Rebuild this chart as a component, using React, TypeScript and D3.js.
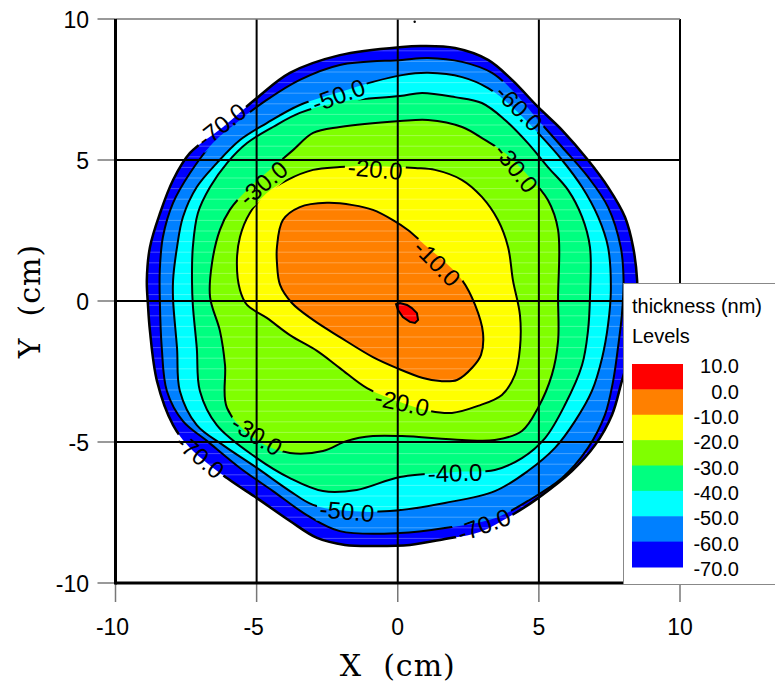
import React, { useEffect, useRef } from "react";
import * as d3 from "d3";

const W = 775;
const H = 688;

// levels and colours of the filled bands (outer -> inner)
const legendLevels = ["10.0", "0.0", "-10.0", "-20.0", "-30.0", "-40.0", "-50.0", "-60.0", "-70.0"];
const legendColors = ["#FF0000", "#FF8000", "#FFFF00", "#80FF00", "#00FF80", "#00FFFF", "#0080FF", "#0000FF"];
const axisTicks = [-10, -5, 0, 5, 10];
const gridTicks = [-5, 0, 5];

// contour outlines, in cm
const contour70 = [
  [0.86, 9.04], [0.15, 9.01], [-2.05, 8.72], [-3.82, 8.09], [-4.99, 7.2], [-6.19, 6.17], [-7.36, 5.25],
  [-7.96, 4.29], [-8.42, 3.12], [-8.78, 1.91], [-8.89, 0.74], [-8.85, -0.14], [-8.78, -1.06], [-8.53, -2.84],
  [-7.96, -4.4], [-7.36, -5.21], [-6.05, -6.28], [-4.99, -6.99], [-3.82, -7.8], [-2.86, -8.4], [-1.87, -8.65],
  [-0.88, -8.69], [0.43, -8.65], [1.67, -8.44], [2.91, -8.19], [4.05, -7.59], [4.97, -6.99], [6.17, -6.03],
  [6.99, -5.11], [7.59, -4.04], [7.94, -2.84], [8.3, -1.56], [8.48, -0.32], [8.48, 0.74], [8.34, 1.91],
  [8.05, 2.98], [7.45, 4.04], [6.74, 5.0], [5.82, 6.06], [4.97, 6.88], [4.05, 7.84], [3.2, 8.55], [2.03, 8.97],
];
const contour60 = [
  [1.07, 8.62], [0.15, 8.55], [-2.05, 8.37], [-3.47, 7.84], [-4.64, 7.13], [-5.59, 6.42], [-6.55, 5.6],
  [-7.36, 4.54], [-7.96, 3.48], [-8.32, 2.27], [-8.43, 1.1], [-8.43, 0.04], [-8.36, -1.67], [-8.18, -3.19],
  [-7.61, -4.26], [-6.76, -4.96], [-5.59, -5.92], [-4.42, -6.74], [-3.22, -7.59], [-2.05, -8.16], [0.08, -8.23],
  [1.67, -8.05], [3.44, -7.7], [4.61, -7.09], [5.82, -6.28], [6.74, -5.21], [7.34, -4.04], [7.63, -2.84],
  [7.8, -1.67], [7.94, -0.5], [8.0, 0.74], [7.9, 1.91], [7.45, 3.33], [6.74, 4.4], [5.82, 5.46], [4.97, 6.42],
  [4.05, 7.48], [3.34, 8.09], [2.28, 8.48],
];
const contour50 = [
  [1.07, 8.09], [0.15, 8.01], [-0.88, 7.77], [-2.05, 7.41], [-3.47, 6.95], [-4.64, 6.31], [-5.59, 5.71],
  [-6.41, 4.89], [-7.12, 4.04], [-7.61, 2.98], [-7.82, 1.91], [-7.96, 0.74], [-7.96, 0.04], [-7.82, -1.67],
  [-7.72, -3.19], [-7.12, -4.4], [-6.19, -5.11], [-4.99, -5.92], [-3.82, -6.74], [-3.0, -7.23], [-1.69, -7.45],
  [-0.28, -7.45], [1.67, -7.16], [3.44, -6.74], [4.61, -6.03], [5.57, -5.21], [6.28, -4.26], [6.88, -3.19],
  [7.24, -2.02], [7.45, -0.85], [7.55, 0.39], [7.45, 1.91], [7.1, 2.98], [6.53, 4.04], [5.82, 5.0], [4.97, 5.96],
  [4.05, 6.88], [3.2, 7.55], [2.28, 7.94],
];
const contour40 = [
  [0.86, 7.38], [0.08, 7.27], [-2.05, 7.06], [-3.47, 6.67], [-4.42, 6.17], [-5.34, 5.6], [-6.05, 4.89],
  [-6.65, 4.04], [-7.08, 3.12], [-7.26, 1.91], [-7.29, 0.74], [-7.26, -0.14], [-7.12, -1.67], [-7.01, -3.19],
  [-6.41, -4.4], [-4.99, -5.57], [-3.82, -6.28], [-2.65, -6.74], [-1.45, -6.7], [0.08, -6.24], [2.03, -6.06],
  [3.44, -5.99], [4.4, -5.57], [5.22, -4.86], [5.92, -3.69], [6.53, -2.27], [6.74, -1.06], [6.81, 0.11],
  [6.81, 1.91], [6.53, 2.98], [6.03, 3.94], [5.32, 4.75], [4.61, 5.6], [3.8, 6.42], [2.98, 7.02], [2.03, 7.23],
];
const contour30 = [
  [1.07, 6.42], [0.08, 6.38], [-2.05, 6.17], [-3.0, 5.96], [-3.71, 5.35], [-4.53, 4.65], [-5.24, 4.04],
  [-5.95, 3.23], [-6.3, 2.52], [-6.58, 1.35], [-6.65, 0.14], [-6.3, -1.06], [-6.12, -2.27], [-6.05, -3.79],
  [-4.99, -4.93], [-3.82, -5.39], [-2.65, -5.32], [-1.8, -4.96], [-0.88, -4.79], [0.15, -4.79], [2.28, -4.93],
  [3.44, -4.93], [4.4, -4.61], [4.97, -3.79], [5.46, -2.62], [5.68, -1.42], [5.68, 0.11], [5.68, 2.52],
  [5.32, 3.58], [4.51, 4.57], [3.8, 5.25], [3.09, 5.71], [2.28, 6.17],
];
const contour20 = [
  [0.61, 4.72], [-0.99, 4.79], [-2.05, 4.75], [-3.0, 4.65], [-3.92, 4.29], [-4.64, 3.83], [-5.24, 3.12],
  [-5.59, 2.27], [-5.7, 1.35], [-5.59, 0.39], [-5.34, -0.14], [-4.64, -0.6], [-3.82, -1.21], [-2.86, -1.77],
  [-2.05, -2.38], [-1.09, -3.09], [0.08, -3.58], [1.14, -3.9], [1.92, -3.97], [2.84, -3.72], [3.69, -3.33],
  [4.15, -2.62], [4.33, -1.67], [4.33, -0.5], [4.08, 0.74], [3.91, 1.91], [3.55, 2.87], [2.98, 3.69],
  [2.28, 4.29], [1.32, 4.65],
];
const contour10 = [
  [-4.07, 2.87], [-3.47, 3.33], [-2.51, 3.48], [-1.59, 3.4], [-0.88, 3.23], [-0.17, 2.87], [0.36, 2.52],
  [0.96, 1.99], [1.67, 1.38], [2.28, 0.74], [2.74, -0.14], [3.02, -1.13], [2.95, -1.91], [2.66, -2.34],
  [2.1, -2.8], [1.5, -2.84], [0.89, -2.73], [-0.03, -2.38], [-0.88, -1.99], [-2.05, -1.28], [-3.0, -0.67],
  [-3.75, -0.07], [-4.17, 0.57], [-4.28, 1.35], [-4.28, 1.91],
];
const contour0 = [
  [-0.06, -0.11], [0.08, -0.07], [0.33, -0.14], [0.5, -0.25], [0.68, -0.43], [0.72, -0.67], [0.61, -0.78],
  [0.43, -0.74], [0.18, -0.57], [0.01, -0.32],
];

// contour labels: text, position (cm), angle (deg)
const contourLabels = [
  { text: "-70.0", x: -6.25, y: 6.25, angle: -38 },
  { text: "-50.0", x: -2.1, y: 7.3, angle: -20 },
  { text: "-60.0", x: 4.3, y: 6.85, angle: 45 },
  { text: "-30.0", x: 4.2, y: 4.72, angle: 52 },
  { text: "-20.0", x: -0.8, y: 4.68, angle: 5 },
  { text: "-30.0", x: -4.77, y: 4.18, angle: -40 },
  { text: "-10.0", x: 1.4, y: 1.35, angle: 45 },
  { text: "-20.0", x: 0.15, y: -3.6, angle: 12 },
  { text: "-30.0", x: -4.99, y: -4.76, angle: 32 },
  { text: "-40.0", x: 2.03, y: -6.09, angle: -2 },
  { text: "-50.0", x: -1.8, y: -7.45, angle: 5 },
  { text: "-70.0", x: -7.0, y: -5.5, angle: 40 },
  { text: "-70.0", x: 3.05, y: -7.94, angle: -20 },
];

const App = () => {
  const svgRef = useRef(null);

  useEffect(() => {
    const svg = d3.select(svgRef.current);
    svg.selectAll("*").remove();

    const x = d3.scaleLinear().domain([-10, 10]).range([115.5, 680]);
    const y = d3.scaleLinear().domain([-10, 10]).range([583, 19]);

    const contours = [
      { pts: contour70, color: legendColors[7], curve: true, sw: 2.5 },
      { pts: contour60, color: legendColors[6], curve: true, sw: 2 },
      { pts: contour50, color: legendColors[5], curve: true, sw: 2 },
      { pts: contour40, color: legendColors[4], curve: true, sw: 2 },
      { pts: contour30, color: legendColors[3], curve: true, sw: 2 },
      { pts: contour20, color: legendColors[2], curve: true, sw: 2 },
      { pts: contour10, color: legendColors[1], curve: true, sw: 2 },
      { pts: contour0, color: legendColors[0], curve: false, sw: 2 },
    ];

    const smooth = d3.line()
      .x(d => x(d[0]))
      .y(d => y(d[1]))
      .curve(d3.curveCatmullRomClosed.alpha(0.5));
    const sharp = d3.line()
      .x(d => x(d[0]))
      .y(d => y(d[1]))
      .curve(d3.curveLinearClosed);

    svg.append("rect").attr("width", W).attr("height", H).attr("fill", "#fff");

    const defs = svg.append("defs");
    defs.append("clipPath").attr("id", "outerClip")
      .append("path").attr("d", smooth(contour70));

    // filled bands
    svg.append("g").selectAll("path")
      .data(contours)
      .join("path")
      .attr("d", d => (d.curve ? smooth : sharp)(d.pts))
      .attr("fill", d => d.color);

    // faint raster banding seen in the original fill
    const bands = svg.append("g").attr("clip-path", "url(#outerClip)")
      .attr("stroke", "#fff").attr("stroke-opacity", 0.28).attr("stroke-width", 1);
    d3.range(y(10), y(-10), 10.6).forEach(py => {
      bands.append("line").attr("x1", x(-10)).attr("x2", x(10)).attr("y1", py).attr("y2", py);
    });

    // gaps in the contour lines where labels sit
    const mask = defs.append("mask").attr("id", "labelGaps")
      .attr("maskUnits", "userSpaceOnUse")
      .attr("x", 0).attr("y", 0).attr("width", W).attr("height", H);
    mask.append("rect").attr("width", W).attr("height", H).attr("fill", "#fff");

    const lines = svg.append("g").attr("mask", "url(#labelGaps)");
    lines.selectAll("path")
      .data(contours)
      .join("path")
      .attr("d", d => (d.curve ? smooth : sharp)(d.pts))
      .attr("fill", "none")
      .attr("stroke", "#000")
      .attr("stroke-width", d => d.sw);

    // grid
    const grid = svg.append("g").attr("stroke", "#000").attr("stroke-width", 2);
    gridTicks.forEach(t => {
      grid.append("line").attr("x1", x(t)).attr("x2", x(t)).attr("y1", y(10)).attr("y2", y(-10));
      grid.append("line").attr("x1", x(-10)).attr("x2", x(10)).attr("y1", y(t)).attr("y2", y(t));
    });
    grid.append("line").attr("x1", x(10)).attr("x2", x(10)).attr("y1", y(10)).attr("y2", y(-10));
    svg.append("line")
      .attr("x1", x(-10)).attr("x2", x(10)).attr("y1", y(10)).attr("y2", y(10))
      .attr("stroke", "#777").attr("stroke-width", 1.5);

    // stray dot near the top
    svg.append("circle").attr("cx", x(0.6)).attr("cy", y(9.9)).attr("r", 1.2).attr("fill", "#000");

    const labelG = svg.append("g")
      .style("font-family", "Liberation Sans, Arial, sans-serif")
      .style("font-size", "24px");
    contourLabels.forEach(l => {
      const t = labelG.append("text")
        .attr("transform", `translate(${x(l.x)},${y(l.y)}) rotate(${l.angle})`)
        .attr("text-anchor", "middle")
        .attr("dy", "0.36em")
        .attr("fill", "#000")
        .text(l.text);
      const w = (t.node() as SVGTextElement).getComputedTextLength();
      mask.append("rect")
        .attr("x", -w / 2 - 3).attr("y", -12)
        .attr("width", w + 6).attr("height", 24)
        .attr("transform", `translate(${x(l.x)},${y(l.y)}) rotate(${l.angle})`)
        .attr("fill", "#000");
    });

    // axes
    const axisG = svg.append("g")
      .style("font-family", "Liberation Sans, Arial, sans-serif")
      .style("font-size", "23px");
    axisTicks.forEach(t => {
      axisG.append("line")
        .attr("x1", x(-10) - 18).attr("x2", x(-10)).attr("y1", y(t)).attr("y2", y(t))
        .attr("stroke", "#777").attr("stroke-width", 1.5);
      axisG.append("text")
        .attr("x", 89).attr("y", y(t) + 8.5)
        .attr("text-anchor", "end")
        .text(t);
      axisG.append("line")
        .attr("x1", x(t)).attr("x2", x(t)).attr("y1", y(-10)).attr("y2", y(-10) + 19)
        .attr("stroke", "#777").attr("stroke-width", 1.5);
      axisG.append("text")
        .attr("x", x(t) - (t < 0 ? 3 : 0)).attr("y", 635)
        .attr("text-anchor", "middle")
        .text(t);
    });
    svg.append("line")
      .attr("x1", x(-10)).attr("x2", x(-10)).attr("y1", y(10)).attr("y2", y(-10) + 1.5)
      .attr("stroke", "#000").attr("stroke-width", 3);
    svg.append("line")
      .attr("x1", x(-10)).attr("x2", x(10)).attr("y1", y(-10)).attr("y2", y(-10))
      .attr("stroke", "#000").attr("stroke-width", 3);

    svg.append("text")
      .attr("x", x(0)).attr("y", 676)
      .attr("text-anchor", "middle")
      .style("font-family", "DejaVu Serif, serif")
      .style("font-size", "30px")
      .style("letter-spacing", "1px")
      .text("X\u00A0\u00A0(cm)");
    svg.append("text")
      .attr("transform", `translate(40,${y(0)}) rotate(-90)`)
      .attr("text-anchor", "middle")
      .style("font-family", "DejaVu Serif, serif")
      .style("font-size", "30px")
      .style("letter-spacing", "1px")
      .text("Y\u00A0\u00A0(cm)");

    // legend
    const leg = svg.append("g")
      .style("font-family", "Liberation Sans, Arial, sans-serif")
      .style("font-size", "20px");
    leg.append("rect")
      .attr("x", 623.5).attr("y", 283.5).attr("width", 160).attr("height", 301)
      .attr("fill", "#fff").attr("stroke", "#888").attr("stroke-width", 1);
    leg.append("text").attr("x", 632).attr("y", 313).text("thickness (nm)");
    leg.append("text").attr("x", 632).attr("y", 343).text("Levels");

    const ly = d3.scaleLinear().domain([0, legendColors.length]).range([364, 567]);
    leg.selectAll("rect.sw")
      .data(legendColors)
      .join("rect")
      .attr("class", "sw")
      .attr("x", 632).attr("width", 51)
      .attr("y", (d, i) => ly(i)).attr("height", ly(1) - ly(0) + 0.5)
      .attr("fill", d => d);
    leg.selectAll("text.lv")
      .data(legendLevels)
      .join("text")
      .attr("class", "lv")
      .attr("x", 739).attr("y", (d, i) => ly(i) + 2)
      .attr("dy", "0.36em")
      .attr("text-anchor", "end")
      .text(d => d);
  }, []);

  return (
    <svg
      ref={svgRef}
      width={W}
      height={H}
      style={{ position: "absolute", left: 0, top: 0 }}
    />
  );
};

export default App;
